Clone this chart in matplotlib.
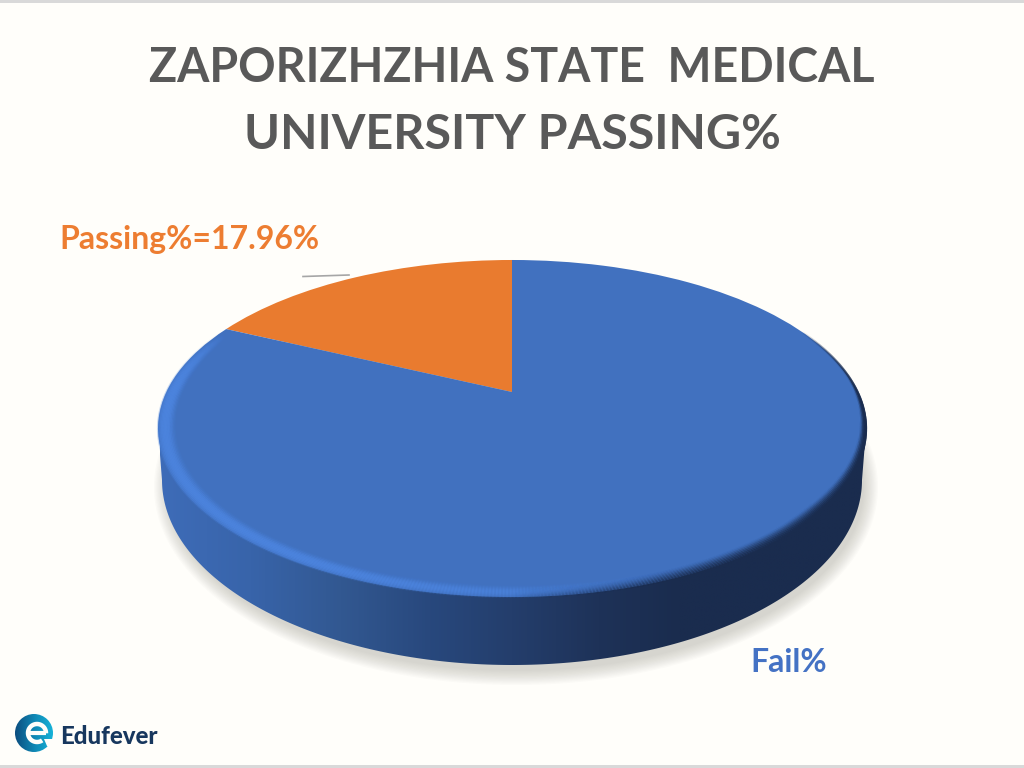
import numpy as np
import matplotlib
matplotlib.use("Agg")
import matplotlib.pyplot as plt
from matplotlib.collections import LineCollection
from matplotlib.colors import LinearSegmentedColormap
from matplotlib.patches import Circle, Polygon, Rectangle
from matplotlib.transforms import Transform

categories = ["Passing%", "Fail%"]
values = [17.96, 82.04]
colors = ["#E97B2F", "#4171BF"]
title_lines = ["ZAPORIZHZHIA STATE  MEDICAL", "UNIVERSITY PASSING%"]
passing_label = "Passing%=17.96%"
fail_label = "Fail%"

BG = "#FFFEFA"

# the pie is drawn flat on a unit circle, then tilted into pixel coords
CX, APEX_Y, A, B, K = 512, 392, 345.6, -75.7, 0.2166


class Tilt(Transform):
    input_dims = output_dims = 2

    def transform_non_affine(self, xy):
        xy = np.asarray(xy)
        d = 1 + K * xy[:, 1]
        return np.column_stack([CX + A * xy[:, 0] / d, (APEX_Y + B * xy[:, 1]) / d])


tilt = Tilt()

fig = plt.figure(figsize=(10.24, 7.68), dpi=100, facecolor=BG)
ax = fig.add_axes([0, 0, 1, 1])

wedges, _ = ax.pie(values, colors=colors, startangle=90, counterclock=True, labels=None)
for w in wedges:
    w.set_transform(tilt + ax.transData)
    w.set_zorder(4)

ax.set_aspect("auto")
ax.set_xlim(0, 1024)
ax.set_ylim(768, 0)
ax.axis("off")

# border strips
ax.add_patch(Rectangle((0, 0), 1024, 3, color="#D9D9D9", lw=0, zorder=1))
ax.add_patch(Rectangle((0, 765), 1024, 3, color="#D9D9D9", lw=0, zorder=1))

t = np.linspace(0, 2 * np.pi, 400)

# soft shadow under the pie
for d in np.linspace(14, 0, 12):
    ax.fill(516 + (348 + d) * np.cos(t), 487 + (184 + d) * np.sin(t),
            color="#8E8C80", alpha=0.03, lw=0, zorder=1.5)

# side wall with horizontal gradient
tb = np.linspace(0, np.pi, 200)
side_x = np.r_[512 + 350 * np.cos(tb), 158, 866]
side_y = np.r_[480 + 185 * np.sin(tb), 430, 430]
side_poly = Polygon(np.column_stack([side_x, side_y]), transform=ax.transData)
stops = [(160, "#3E6CB8"), (250, "#3864AA"), (340, "#325891"), (430, "#28487D"),
         (512, "#243E6C"), (600, "#1E3258"), (680, "#1A2C4E"), (866, "#1A2C4E")]
side_cmap = LinearSegmentedColormap.from_list(
    "side", [((x - 160) / 706, c) for x, c in stops])
im = ax.imshow(np.linspace(0, 1, 512)[None, :], cmap=side_cmap, extent=[160, 866, 680, 400],
               aspect="auto", zorder=3, interpolation="bilinear")
im.set_clip_path(side_poly)
ax.set_xlim(0, 1024)
ax.set_ylim(768, 0)


def ramp(x, a, b):
    return np.clip((x - a) / (b - a), 0, 1)


# bevel along the front rim
th = np.radians(np.linspace(156, 385, 500))
deg = np.degrees(th)
hi_amt = ramp(deg, 156, 178) * (1 - ramp(deg, 240, 295))
dark_amt = ramp(deg, 270, 320) * (1 - ramp(deg, 355, 384))
dark_start = 0.965 + 0.03 * ramp(deg, 320, 365)
for r in np.linspace(0.955, 1.0, 13):
    pts = tilt.transform_non_affine(np.column_stack([r * np.cos(th), r * np.sin(th)]))
    segs = np.stack([pts[:-1], pts[1:]], axis=1)
    hi = 0.7 * np.exp(-((r - 0.98) / 0.016) ** 2)
    dk = np.clip((r - dark_start) / (1 - dark_start), 0, 1) ** 1.5
    rgba_hi = np.tile(np.array([76, 132, 222, 0]) / 255, (len(segs), 1))
    rgba_hi[:, 3] = hi_amt[:-1] * hi
    rgba_dk = np.tile(np.array([26, 44, 78, 0]) / 255, (len(segs), 1))
    rgba_dk[:, 3] = (dark_amt * dk)[:-1] * 0.95
    ax.add_collection(LineCollection(segs, colors=rgba_hi, linewidths=1.6, zorder=5, capstyle="round"))
    ax.add_collection(LineCollection(segs, colors=rgba_dk, linewidths=1.6, zorder=5, capstyle="round"))

# title and labels
ax.text(512, 68, title_lines[0], ha="center", va="center", family="Lato", weight="bold",
        fontsize=33.5, color="#595959", zorder=6)
ax.text(512, 135, title_lines[1], ha="center", va="center", family="Lato", weight="bold",
        fontsize=34.9, color="#595959", zorder=6)
ax.text(59, 240, passing_label, ha="left", va="center", family="Lato", weight="bold",
        fontsize=23, color="#ED7D31", zorder=6)
ax.text(750, 663, fail_label, ha="left", va="center", family="Lato", weight="bold",
        fontsize=23, color="#4472C4", zorder=6)
ax.plot([303, 349], [276.5, 275], color="#A6A6A6", lw=1.2, zorder=6)

# logo
logo_cmap = LinearSegmentedColormap.from_list("logo", ["#0C4E80", "#1088B4", "#17B4DA"])
logo = ax.imshow(np.linspace(0, 1, 64)[None, :], cmap=logo_cmap, extent=[15, 54, 752, 714],
                 aspect="auto", zorder=6)
logo.set_clip_path(Circle((34, 733), 19, transform=ax.transData))
ax.set_xlim(0, 1024)
ax.set_ylim(768, 0)
ta = np.radians(np.linspace(-2, 305, 80))
ax.plot(37 + 9 * np.cos(ta), 733 - 9 * np.sin(ta), color=BG, lw=3.2, zorder=7, solid_capstyle="butt")
ax.plot([28, 46], [733, 733], color=BG, lw=3.0, zorder=7, solid_capstyle="butt")
ax.add_patch(Polygon([[44, 739], [55, 739], [55, 750], [47, 746]], color=BG, lw=0, zorder=7))
ax.text(60, 737, "Edufever", ha="left", va="center", family="Lato", weight="black",
        fontsize=17.3, color="#17375E", zorder=7)

fig.savefig("out.png", dpi=100, facecolor=BG)
